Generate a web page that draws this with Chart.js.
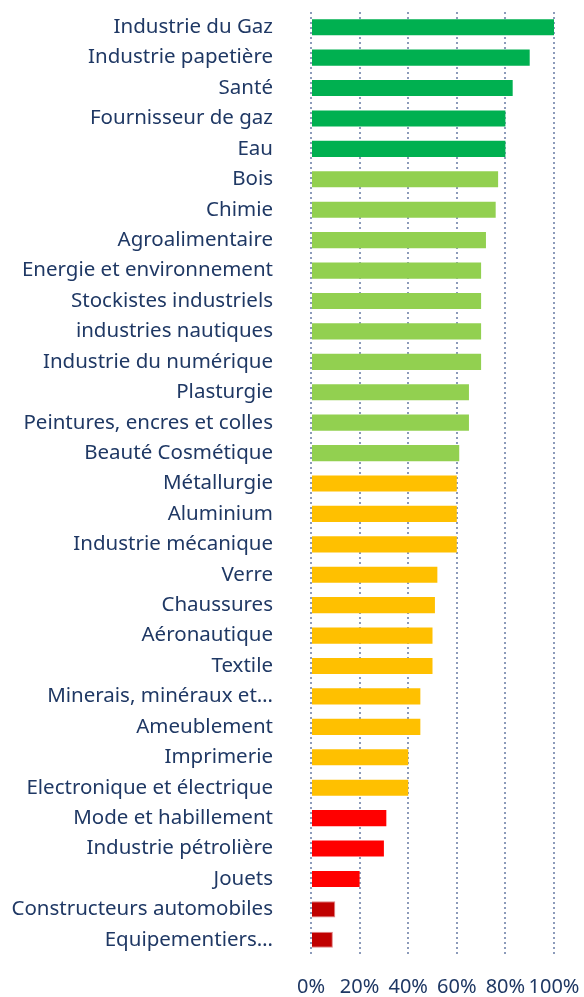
<!DOCTYPE html>
<html>
<head>
<meta charset="utf-8">
<script src="https://cdn.jsdelivr.net/npm/chart.js@4/dist/chart.umd.min.js"></script>
<style>
  html, body { margin: 0; padding: 0; background: #fff; }
  canvas { display: block; }
</style>
</head>
<body>
<canvas id="chart" width="584" height="997"></canvas>
<script>
const sectors = [
  'Industrie du Gaz', 'Industrie papetière', 'Santé', 'Fournisseur de gaz', 'Eau',
  'Bois', 'Chimie', 'Agroalimentaire', 'Energie et environnement', 'Stockistes industriels',
  'industries nautiques', 'Industrie du numérique', 'Plasturgie', 'Peintures, encres et colles',
  'Beauté Cosmétique', 'Métallurgie', 'Aluminium', 'Industrie mécanique', 'Verre',
  'Chaussures', 'Aéronautique', 'Textile', 'Minerais, minéraux et…', 'Ameublement',
  'Imprimerie', 'Electronique et électrique', 'Mode et habillement', 'Industrie pétrolière',
  'Jouets', 'Constructeurs automobiles', 'Equipementiers…'
];

const shares = [
  1.00, 0.90, 0.83, 0.80, 0.80,
  0.77, 0.76, 0.72, 0.70, 0.70,
  0.70, 0.70, 0.65, 0.65,
  0.61, 0.60, 0.60, 0.60, 0.52,
  0.51, 0.50, 0.50, 0.45, 0.45,
  0.40, 0.40, 0.31, 0.30,
  0.20, 0.10, 0.09
];

// niveau de chaque secteur (0 = meilleur)
const tiers = [
  0, 0, 0, 0, 0,
  1, 1, 1, 1, 1,
  1, 1, 1, 1,
  1, 2, 2, 2, 2,
  2, 2, 2, 2, 2,
  2, 2, 3, 3,
  3, 4, 4
];

const xTicks = [0, 0.2, 0.4, 0.6, 0.8, 1.0];

const palette = ['#00B050', '#92D050', '#FFC000', '#FF0000', '#C00000'];
const textColor = '#1F3864';
const font = 'Noto Sans';

const ctx = document.getElementById('chart').getContext('2d');
new Chart(ctx, {
  type: 'bar',
  data: {
    labels: sectors,
    datasets: [{
      data: shares,
      backgroundColor: tiers.map(t => palette[t]),
      borderColor: tiers.map(t => t === 4 ? 'rgba(220,120,120,0.9)' : palette[t]),
      borderWidth: tiers.map(t => t === 4 ? 1 : 0),
      categoryPercentage: 1,
      barPercentage: 0.53,
    }],
  },
  options: {
    indexAxis: 'y',
    responsive: false,
    animation: false,
    layout: { padding: { top: 12, right: 30, bottom: 0, left: 0 } },
    plugins: { legend: { display: false }, tooltip: { enabled: false } },
    scales: {
      x: {
        min: 0,
        max: 1,
        afterBuildTicks: (axis) => { axis.ticks = xTicks.map(v => ({ value: v })); },
        afterFit: (axis) => {
          axis.height = 42;
          axis.paddingLeft = 0;
          axis.paddingRight = 0;
        },
        grid: {
          color: '#8C9BBA',
          lineWidth: 2,
          drawTicks: false,
        },
        border: { display: false, dash: [2, 3] },
        ticks: {
          autoSkip: false,
          maxRotation: 0,
          padding: 20,
          color: textColor,
          font: { family: font, size: 20 },
          callback: (v) => Math.round(v * 100) + '%',
        },
      },
      y: {
        afterFit: (axis) => {
          axis.width = 311;
          axis.paddingTop = 0;
          axis.paddingBottom = 0;
        },
        grid: { display: false },
        border: { display: false },
        ticks: {
          autoSkip: false,
          padding: 30,
          color: textColor,
          font: { family: font, size: 20.5 },
        },
      },
    },
  },
});
</script>
</body>
</html>
